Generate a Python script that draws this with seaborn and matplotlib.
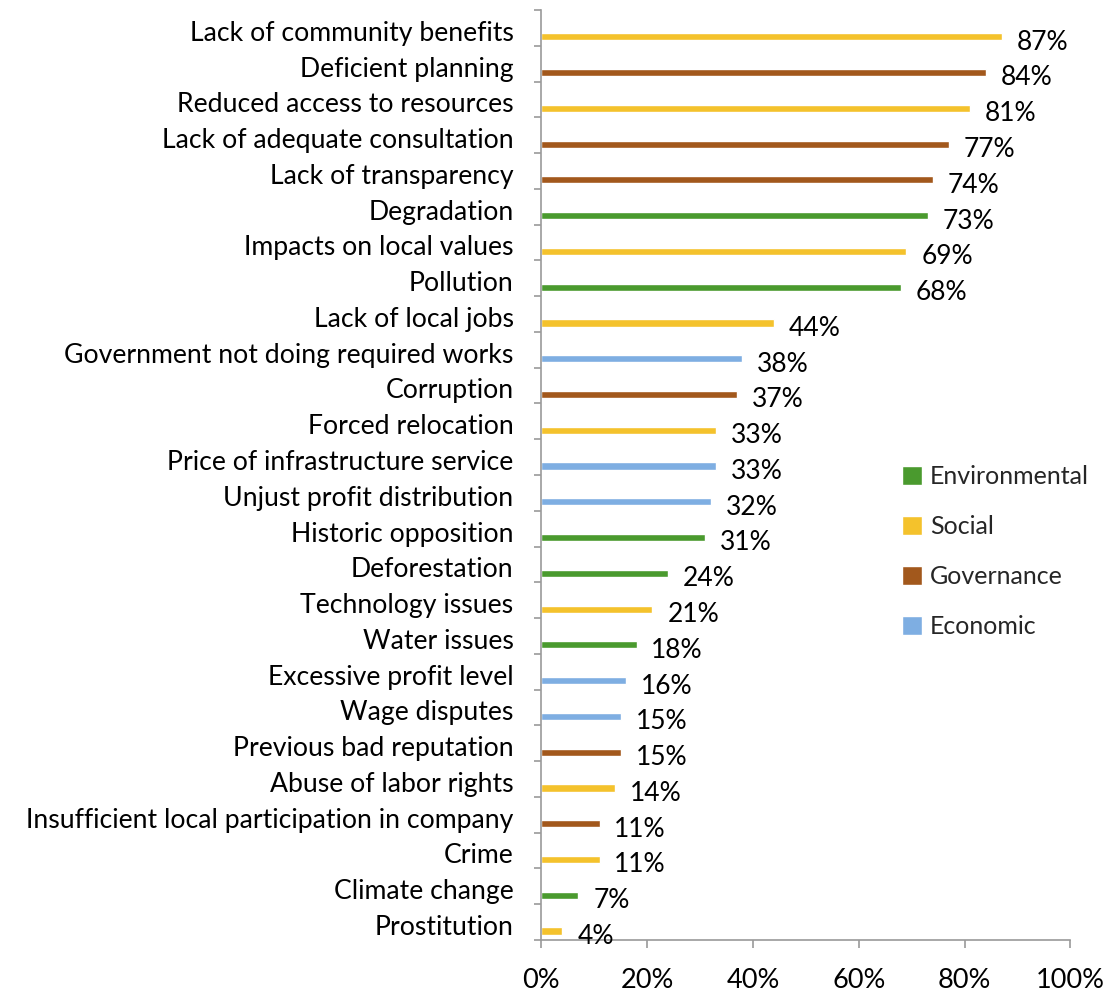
import pandas as pd
import matplotlib.pyplot as plt
import seaborn as sns

causas = [
    "Lack of community benefits", "Deficient planning", "Reduced access to resources",
    "Lack of adequate consultation", "Lack of transparency", "Degradation",
    "Impacts on local values", "Pollution", "Lack of local jobs",
    "Government not doing required works", "Corruption", "Forced relocation",
    "Price of infrastructure service", "Unjust profit distribution", "Historic opposition",
    "Deforestation", "Technology issues", "Water issues", "Excessive profit level",
    "Wage disputes", "Previous bad reputation", "Abuse of labor rights",
    "Insufficient local participation in company", "Crime", "Climate change", "Prostitution",
]
porcentajes = [87, 84, 81, 77, 74, 73, 69, 68, 44, 38, 37, 33, 33, 32, 31,
               24, 21, 18, 16, 15, 15, 14, 11, 11, 7, 4]
tipos = [
    "Social", "Governance", "Social", "Governance", "Governance", "Environmental",
    "Social", "Environmental", "Social", "Economic", "Governance", "Social",
    "Economic", "Economic", "Environmental", "Environmental", "Social", "Environmental",
    "Economic", "Economic", "Governance", "Social", "Governance", "Social",
    "Environmental", "Social",
]
orden_tipos = ["Environmental", "Social", "Governance", "Economic"]
colores = {"Environmental": "#4a9a2e", "Social": "#f4c22c",
           "Governance": "#a2581c", "Economic": "#7eaee2"}

df = pd.DataFrame({"Causa": causas, "Pct": porcentajes, "Tipo": tipos})

sns.set_theme(style="white")
plt.rcParams["font.family"] = ["Lato", "DejaVu Sans"]

fig = plt.figure(figsize=(11.07, 10), dpi=100)
ax = fig.add_axes([0.489, 0.06, 0.478, 0.93])

sns.barplot(data=df, x="Pct", y="Causa", hue="Tipo", hue_order=orden_tipos,
            palette=colores, order=causas, dodge=False, width=0.2,
            saturation=1, orient="h", ax=ax)

n = len(causas)
ax.set_xlim(0, 100)
ax.set_ylim(n - 0.75, -0.75)
ax.set_xticks(range(0, 101, 20))
ax.set_xticklabels([f"{v}%" for v in range(0, 101, 20)], fontsize=19.5)
ax.set_yticks([i - 0.17 for i in range(n)])
ax.set_yticklabels(causas, fontsize=19.2)
ax.set_yticks([i - 0.75 for i in range(n + 1)], minor=True)
ax.tick_params(axis="y", which="major", length=0, pad=20, colors="black")
ax.tick_params(axis="y", which="minor", left=True, length=5, width=1.2, color="#9a9a9a")
ax.tick_params(axis="x", bottom=True, length=6, width=1.2, pad=14, colors="black")
ax.tick_params(axis="x", color="#9a9a9a")
ax.set_xlabel("")
ax.set_ylabel("")

for s in ["top", "right"]:
    ax.spines[s].set_visible(False)
for s in ["left", "bottom"]:
    ax.spines[s].set_color("#9a9a9a")
    ax.spines[s].set_linewidth(1.2)

for i, v in enumerate(porcentajes):
    ax.text(v + 2.8, i + 0.15, f"{v}%", fontsize=19, va="center", ha="left", color="black")

handles, labels = ax.get_legend_handles_labels()
ax.legend(handles, labels, loc="upper left", bbox_to_anchor=(0.64, 0.535),
          frameon=False, fontsize=18, handlelength=0.8, handleheight=0.8,
          handletextpad=0.3, labelspacing=1.08)

fig.savefig("out.png", dpi=100)
